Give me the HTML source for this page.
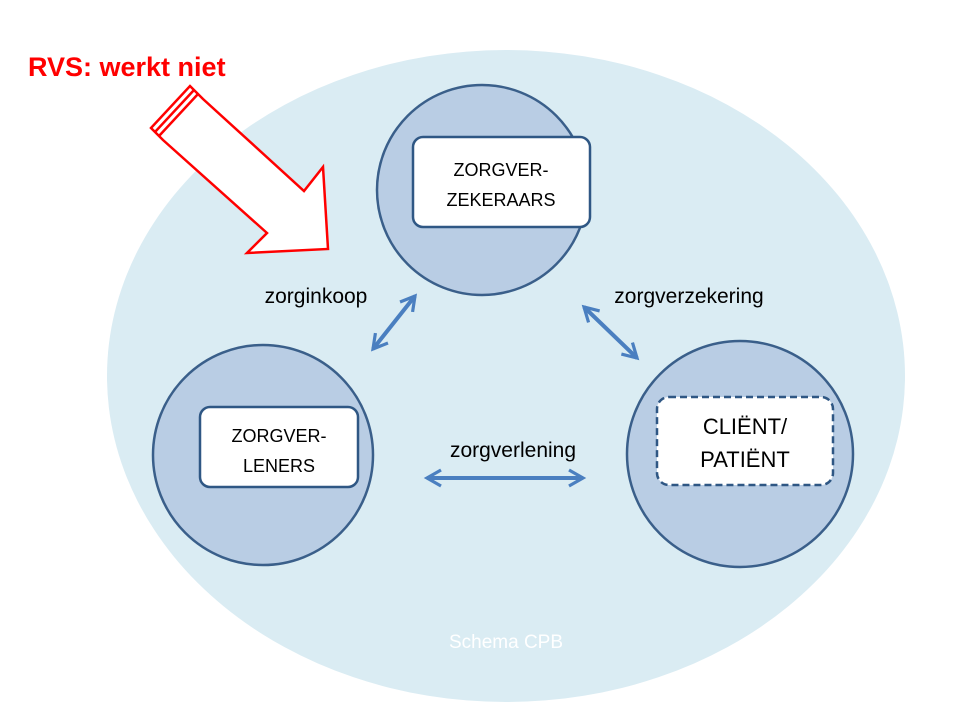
<!DOCTYPE html>
<html><head><meta charset="utf-8"><style>
html,body{margin:0;padding:0;background:#fff;width:960px;height:720px;overflow:hidden}
text{font-family:"Liberation Sans",sans-serif}
</style></head><body>
<svg width="960" height="720" viewBox="0 0 960 720" xmlns="http://www.w3.org/2000/svg">
<defs>
<marker id="ah" viewBox="0 0 10 10" refX="8" refY="5" markerWidth="5" markerHeight="5" orient="auto-start-reverse" markerUnits="strokeWidth">
<path d="M1,1 L8,5 L1,9" fill="none" stroke="#4a7fc0" stroke-width="1.6"/>
</marker>
</defs>
<ellipse cx="506" cy="376" rx="399" ry="326" fill="#daecf3"/>
<circle cx="482" cy="190" r="105" fill="#b9cde4" stroke="#3a5f8a" stroke-width="2.5"/>
<circle cx="263" cy="455" r="110" fill="#b9cde4" stroke="#3a5f8a" stroke-width="2.5"/>
<circle cx="740" cy="454" r="113" fill="#b9cde4" stroke="#3a5f8a" stroke-width="2.5"/>
<rect x="413" y="137" width="177" height="90" rx="10" fill="#fff" stroke="#2f5784" stroke-width="2.5"/>
<rect x="200" y="407" width="158" height="80" rx="10" fill="#fff" stroke="#2f5784" stroke-width="2.5"/>
<rect x="657" y="397" width="176" height="88" rx="12" fill="#fff" stroke="#2f5784" stroke-width="2.5" stroke-dasharray="7,4"/>
<text x="501" y="176" font-size="18" text-anchor="middle" fill="#000">ZORGVER-</text>
<text x="501" y="206" font-size="18" text-anchor="middle" fill="#000">ZEKERAARS</text>
<text x="279" y="442" font-size="18" text-anchor="middle" fill="#000">ZORGVER-</text>
<text x="279" y="472" font-size="18" text-anchor="middle" fill="#000">LENERS</text>
<text x="745" y="434" font-size="22" text-anchor="middle" fill="#000">CLIËNT/</text>
<text x="745" y="467" font-size="22" text-anchor="middle" fill="#000">PATIËNT</text>
<text x="316" y="303" font-size="21" text-anchor="middle" fill="#000">zorginkoop</text>
<text x="689" y="303" font-size="21" text-anchor="middle" fill="#000">zorgverzekering</text>
<text x="513" y="457" font-size="21" text-anchor="middle" fill="#000">zorgverlening</text>
<text x="506" y="648" font-size="19" text-anchor="middle" fill="#fff">Schema CPB</text>
<g stroke="#4a7fc0" stroke-width="4" fill="none" marker-start="url(#ah)" marker-end="url(#ah)">
<line x1="415" y1="296" x2="373" y2="349"/>
<line x1="584" y1="307" x2="637" y2="358"/>
<line x1="427" y1="478" x2="583" y2="478"/>
</g>
<g fill="#fff" stroke="#f00" stroke-width="2.5" stroke-linejoin="miter">
<polygon points="151,128 190,86 203,99 304,191 323,167 328,249 247,253 267,233 163,140"/>
<line x1="155" y1="132" x2="194" y2="90"/>
<line x1="159" y1="136" x2="198" y2="94"/>
</g>
<text x="28" y="76" font-size="27" font-weight="bold" fill="#f00">RVS: werkt niet</text>
</svg>
</body></html>
